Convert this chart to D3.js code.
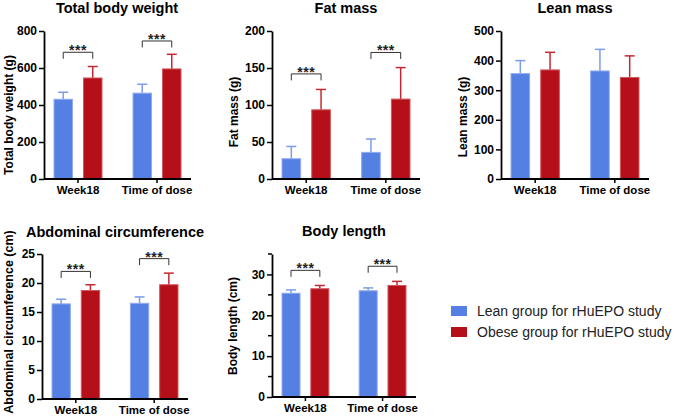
<!DOCTYPE html>
<html>
<head>
<meta charset="utf-8">
<script src="https://cdn.jsdelivr.net/npm/d3@7"></script>
<style>
  body { margin: 0; background: #fff; }
  svg { display: block; font-family: "Liberation Sans", Arial, sans-serif; }
</style>
</head>
<body>
<svg id="chart" width="677" height="418"></svg>
<script>
// categories and series
const groups = ["Week18", "Time of dose"];
const seriesNames = ["Lean group for rHuEPO study", "Obese group for rHuEPO study"];

// Total body weight (g)
const weightLean = [431, 464];
const weightLeanSd = [38, 48];
const weightObese = [546, 595];
const weightObeseSd = [62, 79];
const weightSig = [685, 746];
const weightTicks = [0, 200, 400, 600, 800];

// Fat mass (g)
const fatLean = [27.4, 36];
const fatLeanSd = [16.6, 18];
const fatObese = [93.5, 108];
const fatObeseSd = [27.5, 42.6];
const fatSig = [142, 171];
const fatTicks = [0, 50, 100, 150, 200];

// Lean mass (g)
const leanLean = [356, 365];
const leanLeanSd = [44, 73];
const leanObese = [368.5, 343];
const leanObeseSd = [59.5, 73];
const leanTicks = [0, 100, 200, 300, 400, 500];

// Abdominal circumference (cm)
const abdLean = [16.4, 16.5];
const abdLeanSd = [0.8, 1.1];
const abdObese = [18.7, 19.7];
const abdObeseSd = [1.0, 2.0];
const abdSig = [22.0, 24.2];
const abdTicks = [0, 5, 10, 15, 20, 25];

// Body length (cm)
const lengthLean = [25.4, 26.0];
const lengthLeanSd = [0.8, 0.7];
const lengthObese = [26.5, 27.3];
const lengthObeseSd = [0.8, 1.0];
const lengthSig = [31.0, 32.0];
const lengthTicks = [0, 10, 20, 30];
const lengthMinor = [5, 15, 25, 35];

const barColors = ["#5580e3", "#b5101a"];
const edgeColors = ["#8fabef", "#d0585e"];
const errColors = ["#7b9deb", "#c22a33"];

const svg = d3.select("#chart");

const panels = [
  { title: "Total body weight", ylabel: "Total body weight (g)", left: 44, right: 191, top: 31, bottom: 179,
    max: 800, ticks: weightTicks, lean: weightLean, leanSd: weightLeanSd, obese: weightObese, obeseSd: weightObeseSd,
    sig: weightSig, titleX: 117, titleY: 13, labelX: 13, labelY: 115, labelSize: 12 },
  { title: "Fat mass", ylabel: "Fat mass (g)", left: 272, right: 420, top: 31, bottom: 179,
    max: 200, ticks: fatTicks, lean: fatLean, leanSd: fatLeanSd, obese: fatObese, obeseSd: fatObeseSd,
    sig: fatSig, titleX: 346, titleY: 13, labelX: 238, labelY: 112, labelSize: 12 },
  { title: "Lean mass", ylabel: "Lean mass (g)", left: 501, right: 649, top: 31, bottom: 179,
    max: 500, ticks: leanTicks, lean: leanLean, leanSd: leanLeanSd, obese: leanObese, obeseSd: leanObeseSd,
    sig: null, titleX: 575, titleY: 13, labelX: 467, labelY: 117, labelSize: 12 },
  { title: "Abdominal circumference", ylabel: "Abdominal circumference (cm)", left: 42, right: 188, top: 254, bottom: 399,
    max: 25, ticks: abdTicks, lean: abdLean, leanSd: abdLeanSd, obese: abdObese, obeseSd: abdObeseSd,
    sig: abdSig, titleX: 115, titleY: 237, labelX: 12.5, labelY: 322, labelSize: 12.5 },
  { title: "Body length", ylabel: "Body length (cm)", left: 272, right: 416, top: 254, bottom: 397,
    max: 35, ticks: lengthTicks, minor: lengthMinor, lean: lengthLean, leanSd: lengthLeanSd, obese: lengthObese, obeseSd: lengthObeseSd,
    sig: lengthSig, titleX: 344, titleY: 236, labelX: 237, labelY: 326, labelSize: 12 }
];

panels.forEach(drawPanel);

function drawPanel(p) {
  const g = svg.append("g");

  const y = d3.scaleLinear().domain([0, p.max]).range([p.bottom, p.top]);
  const x0 = d3.scaleBand().domain(groups).range([p.left + 9.5, p.right - 9.5]).paddingInner(0.38);
  const x1 = d3.scaleBand().domain([0, 1]).range([0, x0.bandwidth()]).paddingInner(0.34);

  const rows = [];
  groups.forEach((grp, i) => {
    rows.push({ grp: grp, s: 0, v: p.lean[i], sd: p.leanSd[i] });
    rows.push({ grp: grp, s: 1, v: p.obese[i], sd: p.obeseSd[i] });
  });

  // error bars (drawn first so the bar covers the lower half)
  const cap = 5;
  rows.forEach(d => {
    const cx = x0(d.grp) + x1(d.s) + x1.bandwidth() / 2;
    g.append("line")
      .attr("x1", cx).attr("x2", cx)
      .attr("y1", y(d.v)).attr("y2", y(d.v + d.sd))
      .attr("stroke", errColors[d.s]).attr("stroke-width", 1.5);
    g.append("line")
      .attr("x1", cx - cap).attr("x2", cx + cap)
      .attr("y1", y(d.v + d.sd)).attr("y2", y(d.v + d.sd))
      .attr("stroke", errColors[d.s]).attr("stroke-width", 1.5);
  });

  // bars
  g.selectAll("rect.bar")
    .data(rows)
    .enter()
    .append("rect")
    .attr("class", "bar")
    .attr("x", d => x0(d.grp) + x1(d.s) + 0.5)
    .attr("width", x1.bandwidth() - 1)
    .attr("y", d => y(d.v))
    .attr("height", d => y(0) - y(d.v))
    .attr("fill", d => barColors[d.s])
    .attr("stroke", d => edgeColors[d.s])
    .attr("stroke-width", 1);

  // significance brackets
  if (p.sig) {
    groups.forEach((grp, i) => {
      const xa = x0(grp) + x1(0) + x1.bandwidth() / 2;
      const xb = x0(grp) + x1(1) + x1.bandwidth() / 2;
      const yy = y(p.sig[i]);
      g.append("path")
        .attr("d", `M${xa},${yy + 6.5}V${yy}H${xb}V${yy + 6.5}`)
        .attr("fill", "none")
        .attr("stroke", "#333")
        .attr("stroke-width", 1);
      g.append("text")
        .attr("x", (xa + xb) / 2)
        .attr("y", yy + 3)
        .attr("text-anchor", "middle")
        .style("font-size", "14px")
        .style("font-weight", "bold")
        .style("letter-spacing", "0.5px")
        .attr("fill", "#222")
        .text("***");
    });
  }

  // Y axis
  const yAxis = g.append("g")
    .attr("transform", `translate(${p.left},0)`)
    .call(d3.axisLeft(y).tickValues(p.ticks).tickSize(5).tickPadding(2).tickSizeOuter(0));
  if (p.minor) {
    yAxis.selectAll(".minor")
      .data(p.minor)
      .enter()
      .append("line")
      .attr("class", "minor")
      .attr("x1", -4).attr("x2", 0)
      .attr("y1", d => y(d)).attr("y2", d => y(d))
      .attr("stroke", "#000").attr("stroke-width", 1.5);
  }

  // X axis
  const xAxis = g.append("g")
    .attr("transform", `translate(0,${p.bottom})`)
    .call(d3.axisBottom(x0).tickSize(4).tickPadding(3).tickSizeOuter(0));
  xAxis.select(".domain").attr("d", `M${p.left},0H${p.right}`);

  [yAxis, xAxis].forEach(ax => {
    ax.select(".domain").attr("stroke", "#000").attr("stroke-width", 1.8);
    ax.selectAll(".tick line").attr("stroke", "#000").attr("stroke-width", 1.5);
    ax.selectAll("text")
      .attr("fill", "#000")
      .style("font-family", "Liberation Sans, Arial, sans-serif")
      .style("font-weight", "bold");
  });
  yAxis.selectAll("text").style("font-size", "12px");
  xAxis.selectAll("text").style("font-size", "11.5px");

  // title
  g.append("text")
    .attr("x", p.titleX)
    .attr("y", p.titleY)
    .attr("text-anchor", "middle")
    .style("font-size", "14.5px")
    .style("font-weight", "bold")
    .attr("fill", "#000")
    .text(p.title);

  // Y axis label
  g.append("text")
    .attr("text-anchor", "middle")
    .attr("transform", `translate(${p.labelX}, ${p.labelY}) rotate(-90)`)
    .style("font-size", p.labelSize + "px")
    .style("font-weight", "bold")
    .attr("fill", "#000")
    .text(p.ylabel);
}

// legend
const legend = svg.append("g").attr("transform", "translate(451,306)");
seriesNames.forEach((name, i) => {
  legend.append("rect")
    .attr("x", 0).attr("y", i * 21)
    .attr("width", 16).attr("height", 10)
    .attr("fill", barColors[i]);
  legend.append("text")
    .attr("x", 26).attr("y", i * 21 + 9.5)
    .style("font-size", "14px")
    .attr("fill", "#222")
    .text(name);
});
</script>
</body>
</html>
